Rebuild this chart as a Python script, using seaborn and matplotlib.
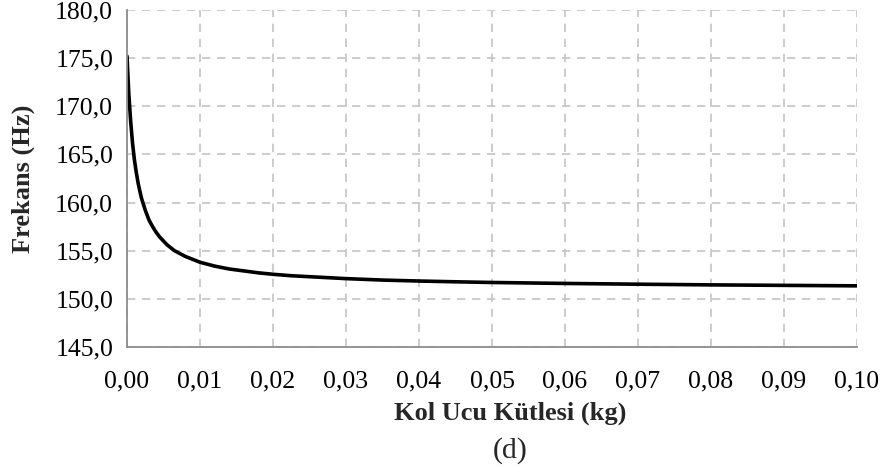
import matplotlib
matplotlib.use("Agg")
import matplotlib.pyplot as plt
import seaborn as sns
import pandas as pd
from matplotlib.ticker import FuncFormatter, MultipleLocator

# Tip mass (kg) and natural frequency (Hz)
mass_kg = [0.0, 0.0001, 0.00025, 0.0005, 0.00075, 0.001, 0.00125, 0.0015,
           0.00175, 0.002, 0.0025, 0.003, 0.0035, 0.004, 0.0045, 0.005,
           0.0055, 0.006, 0.0065, 0.007, 0.0075, 0.008, 0.009, 0.010, 0.011,
           0.012, 0.013, 0.014, 0.016, 0.018, 0.020, 0.0225, 0.025, 0.0275,
           0.030, 0.035, 0.040, 0.045, 0.050, 0.060, 0.070, 0.080, 0.090,
           0.100]
freq_hz = [175.2, 173.5, 171.2, 168.4, 166.2, 164.5, 163.2, 162.1,
           161.2, 160.4, 159.2, 158.2, 157.5, 156.9, 156.4, 156.0,
           155.6, 155.3, 155.0, 154.8, 154.6, 154.4, 154.1, 153.8, 153.6,
           153.4, 153.25, 153.1, 152.9, 152.7, 152.55, 152.4, 152.3, 152.2,
           152.1, 151.95, 151.85, 151.77, 151.7, 151.6, 151.52, 151.45, 151.4,
           151.35]

x_label = "Kol Ucu Kütlesi (kg)"
y_label = "Frekans (Hz)"
caption = "(d)"

df = pd.DataFrame({"mass": mass_kg, "freq": freq_hz})

sns.set_style("white")
plt.rcParams["font.family"] = ["Liberation Serif", "DejaVu Serif"]

fig = plt.figure(figsize=(8.89, 4.67), dpi=100)
ax = fig.add_axes([0.1429, 0.257, 0.964 - 0.1429, 0.9786 - 0.257])

sns.lineplot(data=df, x="mass", y="freq", ax=ax, color="black",
             linewidth=2.6, solid_joinstyle="round", solid_capstyle="round")

ax.set_xlim(0, 0.10)
ax.set_ylim(145, 180)
ax.xaxis.set_major_locator(MultipleLocator(0.01))
ax.yaxis.set_major_locator(MultipleLocator(5))
ax.xaxis.set_major_formatter(FuncFormatter(lambda v, p: f"{v:.2f}".replace(".", ",")))
ax.yaxis.set_major_formatter(FuncFormatter(lambda v, p: f"{v:.1f}".replace(".", ",")))

ax.grid(True, color="#c4c4c4", linestyle=(0, (5, 4)), linewidth=1.2)
for s in ["top", "right"]:
    ax.spines[s].set_visible(False)
for s in ["left", "bottom"]:
    ax.spines[s].set_color("#8c8c8c")
    ax.spines[s].set_linewidth(1.3)

ax.tick_params(axis="both", which="major", direction="out", length=5,
               width=1.3, color="#8c8c8c", labelsize=18.5, labelcolor="black")
ax.tick_params(axis="x", pad=12)
ax.tick_params(axis="y", pad=5)

ax.set_xlabel(x_label, fontsize=19, fontweight="bold")
ax.set_ylabel(y_label, fontsize=19, fontweight="bold")
ax.xaxis.label.set_va("center")
ax.yaxis.label.set_va("center")
ax.xaxis.set_label_coords((510 - 127) / 730, (347 - 413) / 337)
ax.yaxis.set_label_coords((23 - 127) / 730, 0.5)

fig.text(510 / 889, 1 - 451 / 467, caption, ha="center", va="center", fontsize=21.5)

fig.savefig("out.png", dpi=100)
